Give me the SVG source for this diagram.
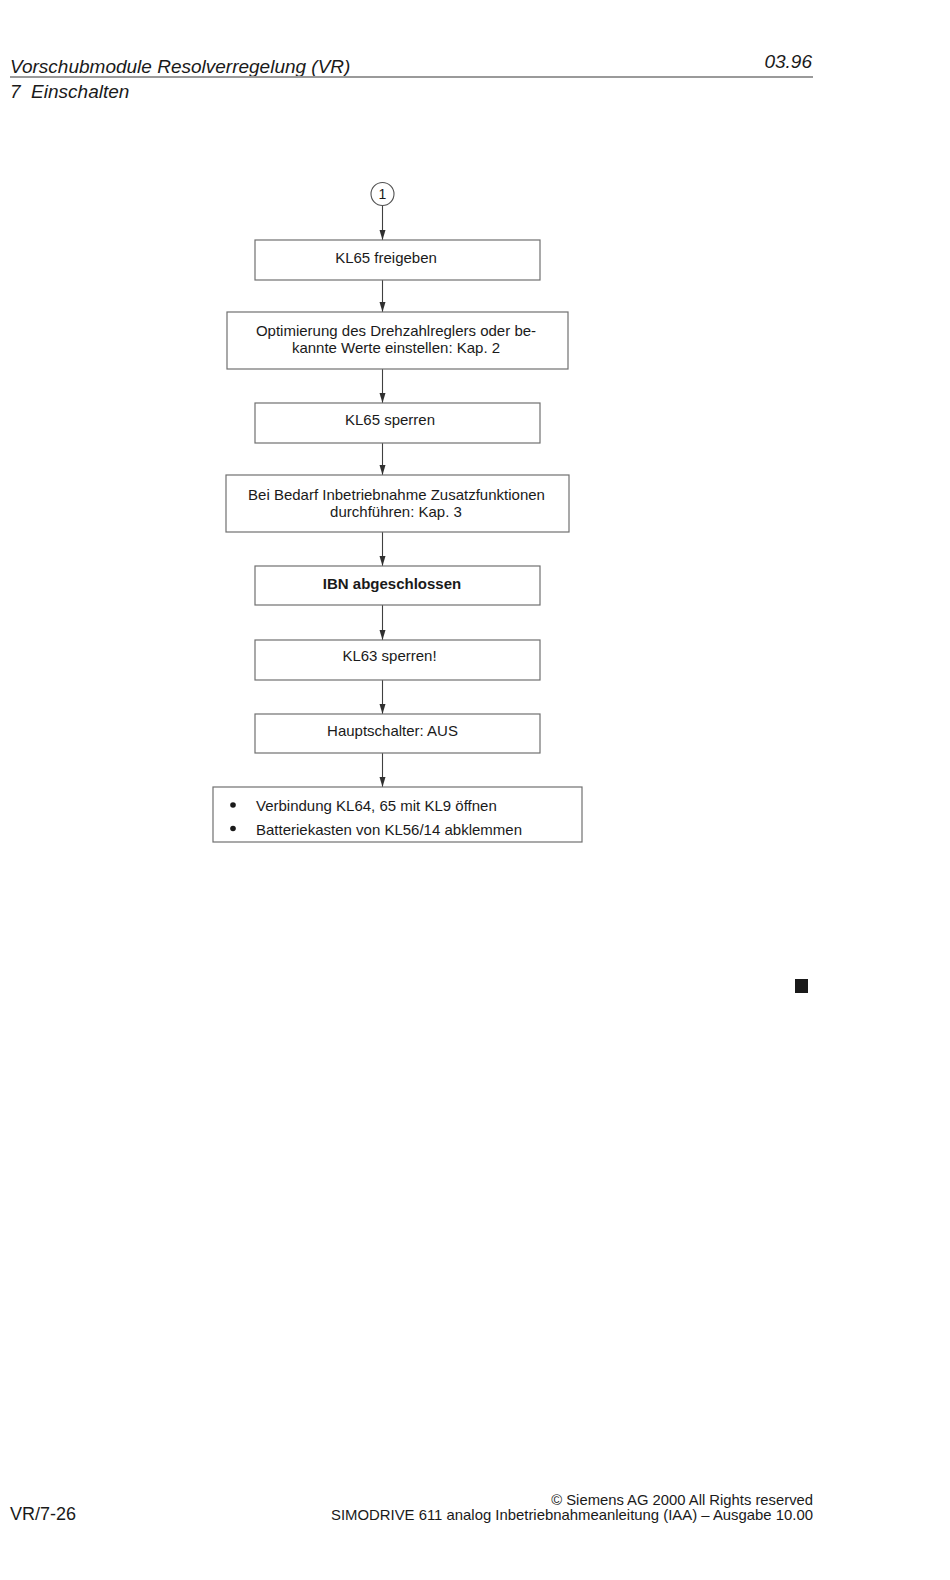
<svg xmlns="http://www.w3.org/2000/svg" width="950" height="1580" viewBox="0 0 950 1580">
<style>
  text { font-family: "Liberation Sans", Arial, sans-serif; fill: #1a1a1a; }
  .hdr { font-size: 19px; font-style: italic; }
  .ftr { font-size: 14.8px; }
  .box { fill: #ffffff; stroke: #707070; stroke-width: 1.2; }
  .lbl { font-size: 15px; text-anchor: middle; }
  .lft { font-size: 15px; }
  .bold { font-weight: bold; }
  .conn { stroke: #404040; stroke-width: 1.1; fill: none; marker-end: url(#arr); }
</style>
<defs>
  <marker id="arr" markerUnits="userSpaceOnUse" markerWidth="10" markerHeight="8" refX="10" refY="4" orient="auto">
    <path d="M0,1 L10,4 L0,7 Z" fill="#303030"/>
  </marker>
</defs>
<rect width="950" height="1580" fill="#ffffff"/>

<g id="header">
  <text class="hdr" x="10" y="72.5">Vorschubmodule Resolverregelung (VR)</text>
  <text class="hdr" x="812" y="68" text-anchor="end">03.96</text>
  <line x1="10" y1="77" x2="813" y2="77" stroke="#9a9a9a" stroke-width="2"/>
  <text class="hdr" x="10" y="97.5" xml:space="preserve">7  Einschalten</text>
</g>

<g id="connectors">
  <line class="conn" x1="382.5" y1="205.5" x2="382.5" y2="240"/>
  <line class="conn" x1="382.5" y1="280" x2="382.5" y2="312"/>
  <line class="conn" x1="382.5" y1="369" x2="382.5" y2="403"/>
  <line class="conn" x1="382.5" y1="443" x2="382.5" y2="475"/>
  <line class="conn" x1="382.5" y1="532" x2="382.5" y2="566"/>
  <line class="conn" x1="382.5" y1="605" x2="382.5" y2="640"/>
  <line class="conn" x1="382.5" y1="680" x2="382.5" y2="714"/>
  <line class="conn" x1="382.5" y1="753" x2="382.5" y2="787"/>
</g>

<g id="start">
  <circle cx="382.5" cy="194" r="11.5" fill="#ffffff" stroke="#505050" stroke-width="1.1"/>
  <text class="lbl" x="382.5" y="199" style="font-size:14px">1</text>
</g>

<g id="n1">
  <rect class="box" x="255" y="240" width="285" height="40"/>
  <text class="lbl" x="386" y="263">KL65 freigeben</text>
</g>

<g id="n2">
  <rect class="box" x="227" y="312" width="341" height="57"/>
  <text class="lbl" x="396" y="336">Optimierung des Drehzahlreglers oder be-</text>
  <text class="lbl" x="396" y="353">kannte Werte einstellen: Kap. 2</text>
</g>

<g id="n3">
  <rect class="box" x="255" y="403" width="285" height="40"/>
  <text class="lbl" x="390" y="424.5">KL65 sperren</text>
</g>

<g id="n4">
  <rect class="box" x="226" y="475" width="343" height="57"/>
  <text class="lbl" x="396.5" y="500">Bei Bedarf Inbetriebnahme Zusatzfunktionen</text>
  <text class="lbl" x="396" y="517">durchführen: Kap. 3</text>
</g>

<g id="n5">
  <rect class="box" x="255" y="566" width="285" height="39"/>
  <text class="lbl bold" x="392" y="589">IBN abgeschlossen</text>
</g>

<g id="n6">
  <rect class="box" x="255" y="640" width="285" height="40"/>
  <text class="lbl" x="389.5" y="661">KL63 sperren!</text>
</g>

<g id="n7">
  <rect class="box" x="255" y="714" width="285" height="39"/>
  <text class="lbl" x="392.5" y="735.5">Hauptschalter: AUS</text>
</g>

<g id="n8">
  <rect class="box" x="213" y="787" width="369" height="55"/>
  <circle cx="233" cy="805" r="2.8" fill="#1a1a1a"/>
  <text class="lft" x="256" y="811">Verbindung KL64, 65 mit KL9 öffnen</text>
  <circle cx="233" cy="828.5" r="2.8" fill="#1a1a1a"/>
  <text class="lft" x="256" y="834.5">Batteriekasten von KL56/14 abklemmen</text>
</g>

<rect id="endmark" x="795" y="979" width="13" height="14" fill="#1a1a1a"/>

<g id="footer">
  <text x="10" y="1520" style="font-size:18px">VR/7-26</text>
  <text class="ftr" x="813" y="1505" text-anchor="end">© Siemens AG 2000 All Rights reserved</text>
  <text class="ftr" x="813" y="1520" text-anchor="end" textLength="482" lengthAdjust="spacingAndGlyphs">SIMODRIVE 611 analog Inbetriebnahmeanleitung (IAA) – Ausgabe 10.00</text>
</g>
</svg>
